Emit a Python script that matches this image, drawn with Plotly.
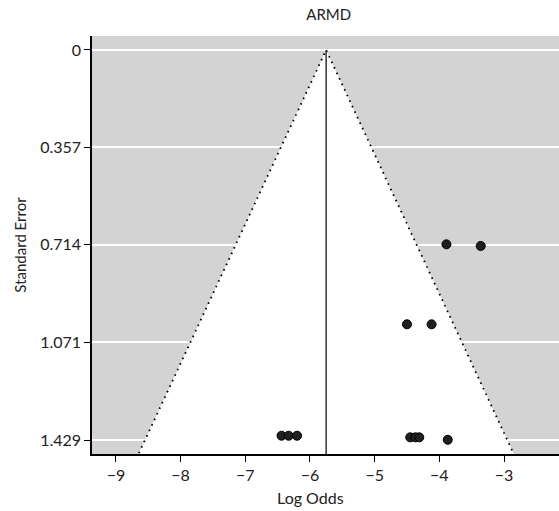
import plotly.graph_objects as go

title = "ARMD"
x_title = "Log Odds"
y_title = "Standard Error"
pooled = -5.75
log_odds = [-3.89, -3.36, -4.50, -4.12, -6.44, -6.33, -6.20, -4.45, -4.37, -4.31, -3.87]
std_err = [0.712, 0.718, 1.005, 1.005, 1.413, 1.413, 1.413, 1.419, 1.419, 1.419, 1.428]
y_ticks = [0, 0.357, 0.714, 1.071, 1.429]
x_ticks = [-9, -8, -7, -6, -5, -4, -3]

se_ext = 1.7
z = 1.96
fam = "Lato, Open Sans, sans-serif"
tfont = dict(family=fam, size=16, color="#222")
lfont = dict(family=fam, size=15, color="#222")

fig = go.Figure()
# white funnel interior
fig.add_trace(go.Scatter(
    x=[pooled - z * se_ext, pooled, pooled + z * se_ext, pooled - z * se_ext],
    y=[se_ext, 0, se_ext, se_ext],
    fill="toself", fillcolor="white", mode="lines",
    line=dict(width=0), hoverinfo="skip", showlegend=False))
# dotted funnel edges
fig.add_trace(go.Scatter(
    x=[pooled - z * se_ext, pooled, pooled + z * se_ext],
    y=[se_ext, 0, se_ext], mode="lines",
    line=dict(color="black", width=1.8, dash="1.6px,4.5px"), showlegend=False))
# pooled estimate line
fig.add_trace(go.Scatter(
    x=[pooled, pooled], y=[0, se_ext], mode="lines",
    line=dict(color="#333", width=1.5), showlegend=False))
# studies
fig.add_trace(go.Scatter(
    x=log_odds, y=std_err, mode="markers",
    marker=dict(size=9, color="#1f1f1f", line=dict(color="black", width=1)),
    showlegend=False))

fig.update_layout(
    width=559, height=511,
    margin=dict(l=92, r=0, t=36, b=57),
    paper_bgcolor="white", plot_bgcolor="#d3d3d3",
    font=lfont,
    title=dict(text=title, x=0.588, xanchor="center", y=0.972, yanchor="middle",
               font=lfont),
    annotations=[dict(text=x_title, xref="paper", yref="paper", x=0.467, y=-0.105,
                      xanchor="center", yanchor="middle", showarrow=False,
                      font=dict(family=fam, size=16, color="#222"))],
)
fig.update_xaxes(
    range=[-9.37, -2.15], tickvals=x_ticks,
    ticktext=["\u2212" + str(abs(v)) for v in x_ticks],
    tickfont=tfont,
    showgrid=False, zeroline=False,
    showline=True, linecolor="black", linewidth=1.5,
    ticks="outside", ticklen=6, tickcolor="black",
)
fig.update_yaxes(
    range=[1.48, -0.051], tickvals=y_ticks,
    ticktext=[str(v) for v in y_ticks],
    tickfont=tfont,
    showgrid=True, gridcolor="white", gridwidth=1.5, zeroline=False,
    showline=True, linecolor="black", linewidth=1.5,
    ticks="outside", ticklen=6, tickcolor="black",
    title=dict(text=y_title, standoff=10, font=lfont),
)

fig.write_html("out.html")
